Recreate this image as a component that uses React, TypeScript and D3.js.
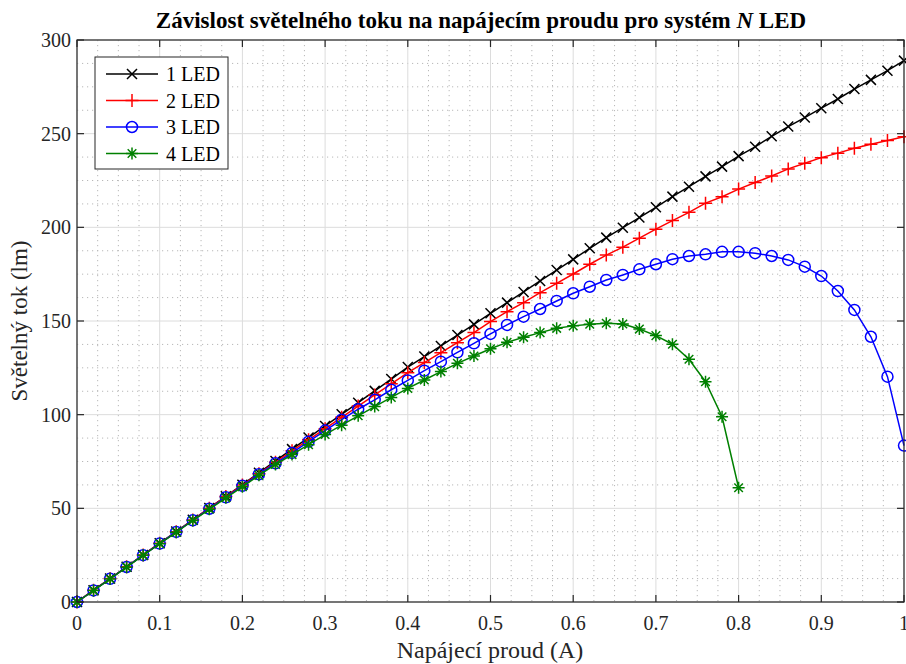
import React from "react";
import * as d3 from "d3";

const current = [0, 0.02, 0.04, 0.06, 0.08, 0.1, 0.12, 0.14, 0.16, 0.18, 0.2, 0.22, 0.24, 0.26, 0.28, 0.3, 0.32, 0.34, 0.36, 0.38, 0.4, 0.42, 0.44, 0.46, 0.48, 0.5, 0.52, 0.54, 0.56, 0.58, 0.6, 0.62, 0.64, 0.66, 0.68, 0.7, 0.72, 0.74, 0.76, 0.78, 0.8, 0.82, 0.84, 0.86, 0.88, 0.9, 0.92, 0.94, 0.96, 0.98, 1.0];

const led1 = [0, 6.3, 12.5, 18.8, 25.1, 31.4, 37.6, 43.9, 50.2, 56.4, 62.6, 69, 75.3, 81.6, 87.8, 94, 100.2, 106.4, 112.7, 119, 125.4, 131, 136.7, 142.5, 148.2, 154.1, 159.8, 165.5, 171.4, 177.2, 182.9, 188.8, 194.5, 199.8, 205.2, 210.7, 216.4, 221.7, 227.2, 232.4, 238, 243, 248.6, 253.8, 258.6, 263.6, 268.5, 273.8, 278.7, 283.6, 289];

const led2 = [0, 6.3, 12.5, 18.8, 25.1, 31.3, 37.5, 43.8, 50.1, 56.3, 62.4, 68.5, 74.6, 80.7, 86.6, 92.5, 98.6, 104.6, 110.5, 116.5, 122.4, 127.8, 133.1, 138.4, 143.8, 149.7, 155, 159.8, 165.1, 170.1, 175.1, 180.3, 185.2, 189.4, 194.2, 199, 203.6, 208, 212.9, 216.3, 220.4, 223.9, 227.4, 231.2, 234.2, 237.2, 239.6, 242.2, 244.3, 246.3, 248.4];

const led3 = [0, 6.2, 12.4, 18.7, 25, 31.2, 37.4, 43.6, 49.8, 55.9, 62, 68.2, 74, 79.6, 85.6, 91.5, 97.3, 102.9, 107.9, 113.3, 118.3, 123.5, 128.3, 133.3, 138.1, 143.1, 147.9, 152.3, 156.4, 160.7, 164.8, 168.3, 171.9, 174.6, 177.6, 180.3, 183, 184.7, 185.6, 186.9, 186.9, 186.2, 184.7, 182.6, 179, 174, 166, 155.9, 141.6, 120.3, 83.5];

const led4 = [0, 6.1, 12.3, 18.6, 24.9, 31.1, 37.2, 43.5, 49.5, 55.6, 61.5, 67.6, 73.4, 78.7, 84, 89.4, 94.4, 99.4, 104.3, 109.2, 114, 118.5, 123, 127.4, 131.3, 135.2, 138.6, 141.3, 143.8, 146.1, 147.4, 148.3, 148.8, 148.4, 145.7, 142.2, 137.6, 129.6, 117.6, 98.9, 61];

const seriesNames = ["1 LED", "2 LED", "3 LED", "4 LED"];
const seriesValues = [led1, led2, led3, led4];
const seriesColors = ["#000000", "#ff0000", "#0000ff", "#008000"];
const seriesMarkers = ["x", "+", "o", "*"];

const xTicks = [0, 0.1, 0.2, 0.3, 0.4, 0.5, 0.6, 0.7, 0.8, 0.9, 1];
const yTicks = [0, 50, 100, 150, 200, 250, 300];

const W = 906, H = 664;
const L = 77, R = 904, T = 40, B = 602;
const FONT = "'Liberation Serif', 'Times New Roman', serif";
const AX = "#262626";

function Marker({ type, x, y, color }: { type: string; x: number; y: number; color: string }) {
  const sw = 1.5;
  if (type === "x") {
    const s = 5;
    return <path d={`M${x - s},${y - s}L${x + s},${y + s}M${x - s},${y + s}L${x + s},${y - s}`} stroke={color} strokeWidth={sw} fill="none" />;
  }
  if (type === "+") {
    const s = 6.5;
    return <path d={`M${x - s},${y}L${x + s},${y}M${x},${y - s}L${x},${y + s}`} stroke={color} strokeWidth={sw} fill="none" />;
  }
  if (type === "o") {
    return <circle cx={x} cy={y} r={5.5} stroke={color} strokeWidth={sw} fill="none" />;
  }
  const s = 6, d = 4.3;
  return <path d={`M${x - s},${y}L${x + s},${y}M${x},${y - s}L${x},${y + s}M${x - d},${y - d}L${x + d},${y + d}M${x - d},${y + d}L${x + d},${y - d}`} stroke={color} strokeWidth={sw} fill="none" />;
}

export default function App() {
  const x = d3.scaleLinear().domain([0, 1]).range([L, R]);
  const y = d3.scaleLinear().domain([0, 300]).range([B, T]);
  const line = d3.line<number>().x((_, i) => x(current[i])).y((v) => y(v));

  const xMinor = d3.range(0, 1.0001, 0.025).filter((v) => Math.abs(v * 10 - Math.round(v * 10)) > 1e-6);
  const yMinor = d3.range(0, 300.001, 12.5).filter((v) => v % 50 !== 0);

  const tl = 7;
  const legX = 95, legY = 57, legW = 133, legH = 112;
  const rowY = (i: number) => 74 + i * 26.5;

  return (
    <svg width={W} height={H} style={{ position: "absolute", left: 0, top: 0, background: "#fff" }} fontFamily={FONT}>
      <rect x={0} y={0} width={W} height={H} fill="#fff" />
      {/* minor grid */}
      <g stroke="#b8b8b8" strokeWidth={1} strokeDasharray="1.2 3.8">
        {xMinor.map((v) => <line key={"xm" + v} x1={x(v)} x2={x(v)} y1={T} y2={B} />)}
        {yMinor.map((v) => <line key={"ym" + v} x1={L} x2={R} y1={y(v)} y2={y(v)} />)}
      </g>
      {/* major grid */}
      <g stroke="#dcdcdc" strokeWidth={1}>
        {xTicks.map((v) => <line key={"xg" + v} x1={x(v)} x2={x(v)} y1={T} y2={B} />)}
        {yTicks.map((v) => <line key={"yg" + v} x1={L} x2={R} y1={y(v)} y2={y(v)} />)}
      </g>
      {/* series */}
      {seriesValues.map((vals, si) => (
        <g key={"s" + si}>
          <path d={line(vals) || ""} fill="none" stroke={seriesColors[si]} strokeWidth={1.5} />
          {vals.map((v, i) => <Marker key={i} type={seriesMarkers[si]} x={x(current[i])} y={y(v)} color={seriesColors[si]} />)}
        </g>
      ))}
      {/* axes box and ticks */}
      <rect x={L} y={T} width={R - L} height={B - T} fill="none" stroke={AX} strokeWidth={1.2} />
      <g stroke={AX} strokeWidth={1.2}>
        {xTicks.map((v) => (
          <g key={"xt" + v}>
            <line x1={x(v)} x2={x(v)} y1={B} y2={B - tl} />
            <line x1={x(v)} x2={x(v)} y1={T} y2={T + tl} />
          </g>
        ))}
        {yTicks.map((v) => (
          <g key={"yt" + v}>
            <line x1={L} x2={L + tl} y1={y(v)} y2={y(v)} />
            <line x1={R} x2={R - tl} y1={y(v)} y2={y(v)} />
          </g>
        ))}
      </g>
      <g fill={AX} fontSize={20}>
        {xTicks.map((v) => (
          <text key={"xl" + v} x={x(v)} y={630} textAnchor="middle">{String(v)}</text>
        ))}
        {yTicks.map((v) => (
          <text key={"yl" + v} x={L - 6} y={y(v) + 7} textAnchor="end">{String(v)}</text>
        ))}
      </g>
      <text x={490} y={658} textAnchor="middle" fontSize={24} fill={AX}>Napájecí proud (A)</text>
      <text transform={`translate(27,${(T + B) / 2}) rotate(-90)`} textAnchor="middle" fontSize={23} fill={AX}>Světelný tok (lm)</text>
      <text x={481} y={28} textAnchor="middle" fontSize={23} fontWeight="bold" fill="#000">
        Závislost světelného toku na napájecím proudu pro systém <tspan fontStyle="italic">N</tspan> LED
      </text>
      {/* legend */}
      <rect x={legX} y={legY} width={legW} height={legH} fill="#fff" stroke="#262626" strokeWidth={1} />
      {seriesNames.map((n, i) => (
        <g key={"lg" + i}>
          <line x1={106} x2={158} y1={rowY(i)} y2={rowY(i)} stroke={seriesColors[i]} strokeWidth={1.5} />
          <Marker type={seriesMarkers[i]} x={132} y={rowY(i)} color={seriesColors[i]} />
          <text x={166} y={rowY(i) + 7} fontSize={20} fill="#000">{n}</text>
        </g>
      ))}
    </svg>
  );
}
